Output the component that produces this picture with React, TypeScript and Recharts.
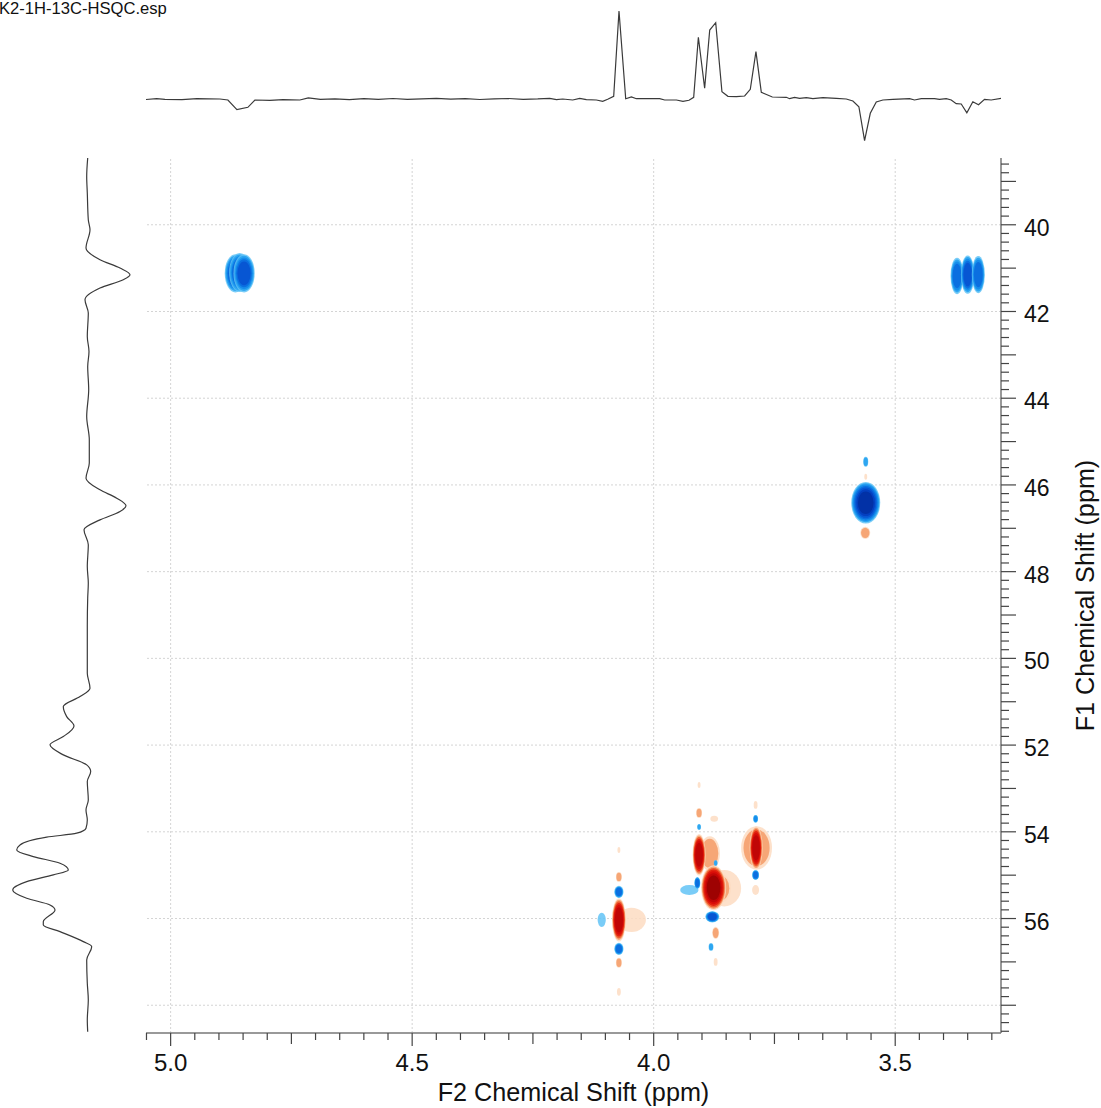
import React from 'react';
import { ScatterChart, Scatter, XAxis, YAxis, ReferenceLine, LineChart, Line } from 'recharts';

// ---------- axis ranges (ppm) ----------
const X_MIN = 3.281;
const X_MAX = 5.051;
const Y_MIN = 38.46;
const Y_MAX = 58.64;

// ---------- tick labels / grid ----------
const xLabelValues = [5.0, 4.5, 4.0, 3.5];
const yLabelValues = [40, 42, 44, 46, 48, 50, 52, 54, 56];
const yGridValues = [40, 42, 44, 46, 48, 50, 52, 54, 56, 58];

// ---------- F2 (1H) projection, top ----------
const topPpm = [5.0511, 5.029, 5.0118, 4.9766, 4.9456, 4.898, 4.8814, 4.8628, 4.8401, 4.8256, 4.7946, 4.7672, 4.7325, 4.715, 4.69, 4.66, 4.63, 4.60, 4.57, 4.54, 4.51, 4.48, 4.45, 4.42, 4.39, 4.36, 4.33, 4.30, 4.27, 4.24, 4.2152, 4.2013, 4.1883, 4.1676, 4.1531, 4.1393, 4.1186, 4.1055, 4.0952, 4.0828, 4.0718, 4.0579, 4.0461, 4.0358, 3.9876, 3.9772, 3.953, 3.9394, 3.9269, 3.9172, 3.9075, 3.8945, 3.884, 3.8716, 3.8587, 3.8463, 3.8289, 3.8117, 3.8, 3.7883, 3.7772, 3.7544, 3.7254, 3.7186, 3.7083, 3.6979, 3.684, 3.6704, 3.6497, 3.622, 3.6013, 3.5876, 3.5752, 3.5634, 3.5516, 3.5392, 3.5255, 3.5048, 3.4703, 3.46, 3.4461, 3.4186, 3.4083, 3.3944, 3.384, 3.3737, 3.3633, 3.3517, 3.3393, 3.3275, 3.3151, 3.3013, 3.2806];
const topIntensity = [-0.5, 0.3, -0.3, -0.7, 0.3, 0, -1, -10.7, -8.3, -1, -1.3, -0.7, -1, 1.2, -0.3, 0.2, -0.6, 0.4, -0.3, 0.5, -0.4, 0.1, 0.6, -0.2, 0.3, -0.5, 0.2, 0.5, -0.3, 0.1, 0.7, -0.7, 0, -1, 0.7, -0.7, -1, -2.3, -0.3, 2.7, 88, 0.3, 2, 0.3, 0.3, -1, -1, -2.3, -1.3, 1.7, 61.7, 10.7, 69, 76.3, 7.3, 2.7, 2.3, 3, 9.7, 47.3, 6.7, 2, 1.7, 0.3, 1.7, 0.7, 1.3, 0.3, 1.3, 0.7, 0, -2, -7.7, -41.7, -14.3, -3, -1, -0.3, 0.3, -1, 0.3, 0.3, -0.3, 0.3, -1, -4.7, -5, -13.7, -2.7, -5.7, -0.3, -1, 0.7];

// ---------- F1 (13C) projection, left ----------
const leftPpm = [38.461, 38.886, 39.269, 39.885, 40.115, 40.537, 40.807, 40.999, 41.153, 41.269, 41.46, 41.73, 42.037, 42.577, 42.923, 43.269, 43.806, 44.422, 44.96, 45.497, 45.843, 46.113, 46.305, 46.482, 46.614, 46.805, 47.036, 47.382, 47.882, 48.265, 48.611, 49.266, 49.804, 50.341, 50.687, 50.881, 51.112, 51.343, 51.557, 51.804, 51.995, 52.226, 52.457, 52.611, 52.842, 53.264, 53.495, 53.725, 53.917, 54.032, 54.124, 54.302, 54.417, 54.572, 54.724, 54.879, 54.994, 55.149, 55.34, 55.532, 55.686, 55.802, 56.072, 56.148, 56.302, 56.533, 56.648, 56.955, 57.492, 57.878, 58.339, 58.609];
const leftIntensity = [-0.3, -1.3, -0.7, 0.3, 2, -2, 12, 32, 42, 35.3, 12, -3, 0.3, -0.7, 1, -0.3, 0.7, -1.3, 1.3, 1.3, -2, 12, 28.7, 38, 32, 12, -4, 0.3, -0.7, 0.3, -0.3, -0.7, -0.7, -0.7, 2, -8, -24.7, -21.3, -14, -24.7, -38, -24.7, -1.3, 2.7, -0.7, 0.3, -2, -0.7, -2, -11.3, -41.3, -68, -71.3, -54.7, -28, -19.7, -34.7, -61.3, -75.3, -61.3, -38, -33, -44.7, -44.7, -28, -4.7, 3.7, -1.3, -0.7, 0.3, -0.7, -0.3];

// ---------- 2D cross peaks (contour blobs) ----------
// F2 shift, F1 shift, half linewidth F2 (ppm), half linewidth F1 (ppm), signed contour level count
const peakF2 = [4.046, 3.884, 3.854, 3.862, 3.787, 3.9262, 4.1076,
  4.866, 4.857, 4.848, 3.372, 3.350, 3.328, 3.561, 3.561, 3.561, 3.562,
  4.072, 4.072, 4.072, 4.072, 4.072, 4.072, 4.072,
  3.906, 3.876, 3.8786, 3.9096, 3.8717, 3.8717, 3.8813, 3.8717, 3.906, 3.906, 3.906, 3.8747,
  3.788, 3.789, 3.789, 3.789, 3.789];
const peakF1 = [56.03, 54.5, 55.3, 55.3, 54.37, 55.34, 56.03,
  41.12, 41.10, 41.12, 41.18, 41.15, 41.15, 46.41, 45.467, 45.81, 47.105,
  56.03, 55.386, 56.70, 55.04, 57.02, 57.69, 54.42,
  54.53, 55.29, 55.96, 55.18, 54.72, 56.33, 56.655, 57.0, 53.887, 53.564, 52.92, 53.70,
  54.37, 53.70, 53.38, 54.994, 55.34];
const peakHalfF2 = [0.03, 0.021, 0.035, 0.022, 0.032, 0.019, 0.0085,
  0.022, 0.022, 0.022, 0.0135, 0.014, 0.0135, 0.03, 0.0052, 0.003, 0.0103,
  0.0145, 0.0095, 0.0095, 0.0062, 0.0062, 0.004, 0.003,
  0.0135, 0.026, 0.0145, 0.0062, 0.004, 0.0072, 0.005, 0.004, 0.004, 0.0062, 0.003, 0.008,
  0.0135, 0.005, 0.004, 0.0072, 0.0072];
const peakHalfF1 = [0.28, 0.40, 0.42, 0.34, 0.50, 0.115, 0.165,
  0.44, 0.45, 0.44, 0.42, 0.44, 0.43, 0.48, 0.115, 0.07, 0.14,
  0.50, 0.14, 0.14, 0.115, 0.115, 0.09, 0.07,
  0.48, 0.52, 0.13, 0.14, 0.07, 0.14, 0.09, 0.09, 0.07, 0.115, 0.07, 0.07,
  0.50, 0.09, 0.09, 0.115, 0.115];
const peakLevel = [1, 2, 1, 2, 2, -1, -1,
  -5, -5, -5, -4, -5, -4, -7, -2, 1, 2,
  6, -4, -4, 2, 2, 1, 1,
  6, 7, -5, -4, -2, 2, -2, 1, -2, 2, 1, 1,
  6, -3, 1, -4, 1];

// ---------- layout ----------
const W = 1101;
const H = 1108;
const PLOT_LEFT = 146;
const PLOT_RIGHT = 1001;
const PLOT_TOP = 158;
const PLOT_BOTTOM = 1033;
const PX_PER_PPM_X = (PLOT_RIGHT - PLOT_LEFT) / (X_MAX - X_MIN);
const PX_PER_PPM_Y = (PLOT_BOTTOM - PLOT_TOP) / (Y_MAX - Y_MIN);
const FONT = '"Liberation Sans", Arial, Helvetica, sans-serif';

const POS_COLORS = ['#fddcc2', '#f6a676', '#ee5d31', '#e2230f', '#d80d08', '#c00606', '#9e0202', '#7c0000'];
const NEG_COLORS = ['#62c3f6', '#2ea6f1', '#168deb', '#0b6fe0', '#0756d3', '#0440c0', '#0231a6', '#02268a'];

const xTicks: number[] = [];
for (let i = 0; i <= 35; i++) xTicks.push(Math.round((3.3 + 0.05 * i) * 100) / 100);
const yTicks: number[] = [];
for (let i = 0; i <= 100; i++) yTicks.push(Math.round((38.6 + 0.2 * i) * 10) / 10);

const topData = topPpm.map((x, i) => ({ x, v: topIntensity[i] }));
const leftData = leftPpm.map((ppm, i) => ({ ppm, v: leftIntensity[i] }));
const peakData = peakF2.map((x, i) => ({
  x,
  y: peakF1[i],
  hw: peakHalfF2[i],
  hh: peakHalfF1[i],
  level: peakLevel[i],
}));

const near = (v: number, step: number) => Math.abs(v / step - Math.round(v / step)) < 1e-6;

const PeakShape = (props: any) => {
  const { cx, cy, payload } = props;
  if (cx == null || cy == null) return null;
  const rx0 = payload.hw * PX_PER_PPM_X;
  const ry0 = payload.hh * PX_PER_PPM_Y;
  const n = Math.abs(payload.level);
  const pal = payload.level > 0 ? POS_COLORS : NEG_COLORS;
  const nn = n + 1.5;
  const els = [];
  for (let k = 0; k < n; k++) {
    const s = Math.sqrt((nn - k) / nn);
    els.push(
      <ellipse
        key={k}
        cx={cx}
        cy={cy}
        rx={rx0 * s}
        ry={ry0 * s}
        fill={pal[Math.min(k, pal.length - 1)]}
        fillOpacity={k === 0 ? 0.85 : 1}
      />
    );
  }
  return <g>{els}</g>;
};

const XTick = (props: any) => {
  const { x, y, payload } = props;
  const v = payload.value;
  const major = near(v, 0.5);
  const mid = near(v, 0.25);
  const len = major ? 13 : mid ? 11 : 7;
  return (
    <g>
      <line x1={x} x2={x} y1={y} y2={y + len} stroke="#444" strokeWidth={1.2} />
      {major && (
        <text x={x} y={y + 38} textAnchor="middle" fontSize={24} fill="#111" fontFamily={FONT}>
          {v.toFixed(1)}
        </text>
      )}
    </g>
  );
};

const YTick = (props: any) => {
  const { x, y, payload } = props;
  const v = payload.value;
  const isInt = near(v, 1);
  const len = isInt ? 15 : 8;
  const showLabel = yLabelValues.some((l) => Math.abs(l - v) < 1e-6);
  return (
    <g>
      <line x1={x} x2={x + len} y1={y} y2={y} stroke="#444" strokeWidth={1.2} />
      {showLabel && (
        <text x={x + 23} y={y + 11} textAnchor="start" fontSize={23} fill="#111" fontFamily={FONT}>
          {Math.round(v)}
        </text>
      )}
    </g>
  );
};

export default function App() {
  return (
    <div style={{ position: 'absolute', left: 0, top: 0, width: W, height: H, background: '#fff', overflow: 'hidden' }}>
      {/* main 2D map */}
      <div style={{ position: 'absolute', left: 0, top: 0 }}>
        <ScatterChart width={W} height={H} margin={{ top: PLOT_TOP, left: PLOT_LEFT, right: 0, bottom: 0 }}>
          <XAxis
            type="number"
            dataKey="x"
            domain={[X_MIN, X_MAX]}
            allowDataOverflow
            reversed
            ticks={xTicks}
            interval={0}
            height={H - PLOT_BOTTOM}
            tickSize={0}
            tickMargin={0}
            tick={<XTick />}
            axisLine={{ stroke: '#777', strokeWidth: 1.5 }}
            tickLine={false}
          />
          <YAxis
            type="number"
            dataKey="y"
            orientation="right"
            domain={[Y_MIN, Y_MAX]}
            allowDataOverflow
            reversed
            ticks={yTicks}
            interval={0}
            width={W - PLOT_RIGHT}
            tickSize={0}
            tickMargin={0}
            tick={<YTick />}
            axisLine={{ stroke: '#777', strokeWidth: 1.5 }}
            tickLine={false}
          />
          {xLabelValues.map((v) => (
            <ReferenceLine key={'gx' + v} x={v} stroke="#d4d4d4" strokeWidth={1} strokeDasharray="2 2" />
          ))}
          {yGridValues.map((v) => (
            <ReferenceLine key={'gy' + v} y={v} stroke="#d4d4d4" strokeWidth={1} strokeDasharray="2 2" />
          ))}
          <Scatter data={peakData} shape={PeakShape} isAnimationActive={false} />
        </ScatterChart>
      </div>

      {/* top 1H projection */}
      <div style={{ position: 'absolute', left: 0, top: 0 }}>
        <LineChart width={W} height={150} data={topData} margin={{ top: 4, bottom: 6, left: PLOT_LEFT, right: W - PLOT_RIGHT }}>
          <XAxis type="number" dataKey="x" domain={[X_MIN, X_MAX]} allowDataOverflow reversed hide />
          <YAxis type="number" domain={[-45, 95]} allowDataOverflow hide />
          <Line type="linear" dataKey="v" stroke="#3a3a3a" strokeWidth={1.2} dot={false} isAnimationActive={false} />
        </LineChart>
      </div>

      {/* left 13C projection */}
      <div style={{ position: 'absolute', left: 0, top: 0 }}>
        <LineChart
          layout="vertical"
          width={PLOT_LEFT}
          height={H}
          data={leftData}
          margin={{ top: PLOT_TOP, bottom: H - PLOT_BOTTOM, left: 0, right: 0 }}
        >
          <XAxis type="number" dataKey="v" domain={[-88, 58]} allowDataOverflow hide />
          <YAxis type="number" dataKey="ppm" domain={[Y_MIN, Y_MAX]} allowDataOverflow hide />
          <Line type="monotone" dataKey="v" stroke="#3a3a3a" strokeWidth={1.2} dot={false} isAnimationActive={false} />
        </LineChart>
      </div>

      {/* titles */}
      <svg width={W} height={H} style={{ position: 'absolute', left: 0, top: 0, pointerEvents: 'none' }}>
        <text x={-1} y={14} fontSize={16.6} fill="#111" fontFamily={FONT}>
          K2-1H-13C-HSQC.esp
        </text>
        <text x={(PLOT_LEFT + PLOT_RIGHT) / 2} y={1101} textAnchor="middle" fontSize={25.2} fill="#111" fontFamily={FONT}>
          F2 Chemical Shift (ppm)
        </text>
        <text
          x={1094}
          y={(PLOT_TOP + PLOT_BOTTOM) / 2}
          textAnchor="middle"
          fontSize={25.2}
          fill="#111"
          fontFamily={FONT}
          transform={`rotate(-90, 1094, ${(PLOT_TOP + PLOT_BOTTOM) / 2})`}
        >
          F1 Chemical Shift (ppm)
        </text>
      </svg>
    </div>
  );
}
